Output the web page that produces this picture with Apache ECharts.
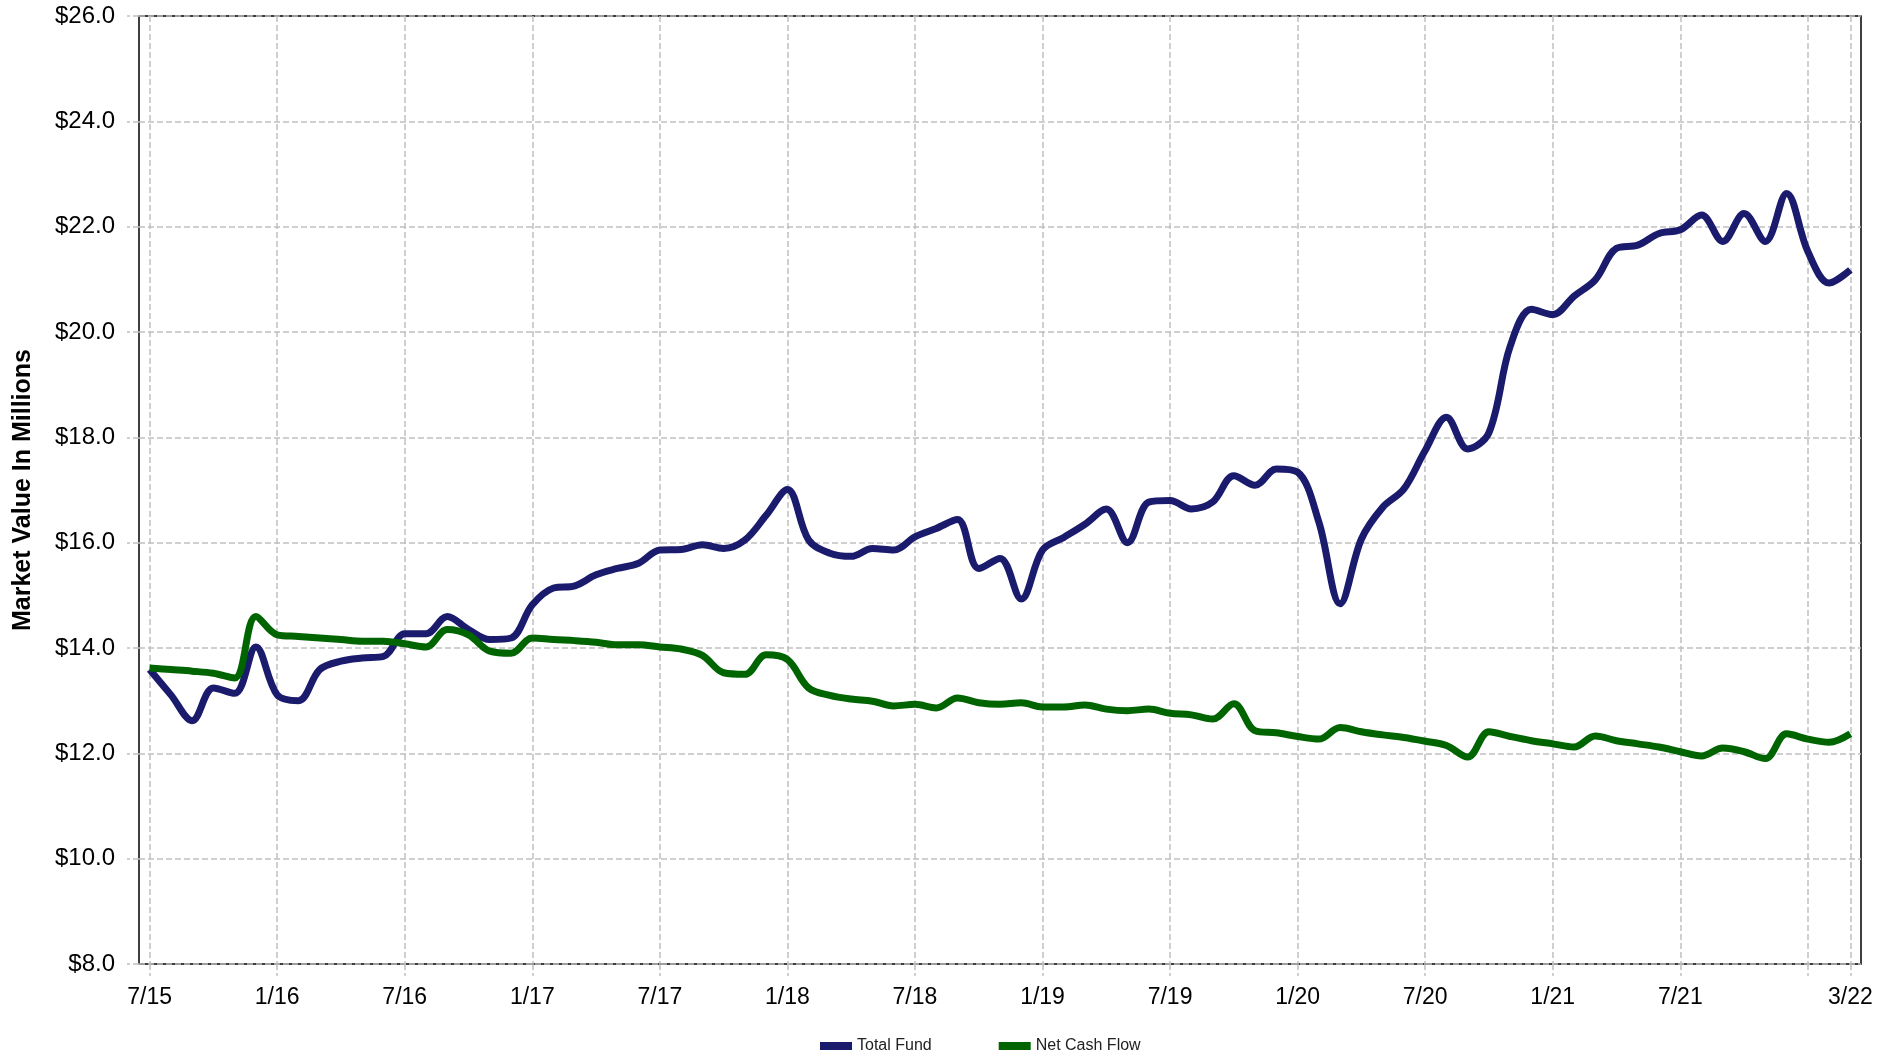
<!DOCTYPE html>
<html>
<head>
<meta charset="utf-8">
<title>Market Value</title>
<script src="https://cdn.jsdelivr.net/npm/echarts@6/dist/echarts.min.js"></script>
<style>
  html, body { margin: 0; padding: 0; background: #fff; }
  #chart { width: 1893px; height: 1055px; }
</style>
</head>
<body>
<div id="chart"></div>
<script>
// monthly, 7/15 .. 3/22
const months = [
  '7/15', '8/15', '9/15', '10/15', '11/15', '12/15',
  '1/16', '2/16', '3/16', '4/16', '5/16', '6/16', '7/16', '8/16', '9/16', '10/16', '11/16', '12/16',
  '1/17', '2/17', '3/17', '4/17', '5/17', '6/17', '7/17', '8/17', '9/17', '10/17', '11/17', '12/17',
  '1/18', '2/18', '3/18', '4/18', '5/18', '6/18', '7/18', '8/18', '9/18', '10/18', '11/18', '12/18',
  '1/19', '2/19', '3/19', '4/19', '5/19', '6/19', '7/19', '8/19', '9/19', '10/19', '11/19', '12/19',
  '1/20', '2/20', '3/20', '4/20', '5/20', '6/20', '7/20', '8/20', '9/20', '10/20', '11/20', '12/20',
  '1/21', '2/21', '3/21', '4/21', '5/21', '6/21', '7/21', '8/21', '9/21', '10/21', '11/21', '12/21',
  '1/22', '2/22', '3/22'
]

const totalFund = [
  13.59, 13.11, 12.62, 13.24, 13.14, 14.02,
  13.11, 13.00, 13.59, 13.75, 13.81, 13.84, 14.27, 14.27, 14.60, 14.35, 14.16, 14.19,
  14.82, 15.14, 15.18, 15.39, 15.51, 15.61, 15.86, 15.87, 15.96, 15.89, 16.05, 16.52,
  17.01, 16.05, 15.80, 15.74, 15.89, 15.86, 16.11, 16.27, 16.44, 15.51, 15.70, 14.93,
  15.86, 16.10, 16.35, 16.64, 16.00, 16.77, 16.80, 16.64, 16.77, 17.27, 17.09, 17.40,
  17.34, 16.39, 14.84, 16.07, 16.67, 17.02, 17.75, 18.38, 17.78, 18.09, 19.73, 20.43,
  20.33, 20.68, 20.99, 21.59, 21.65, 21.87, 21.94, 22.22, 21.72, 22.25, 21.72, 22.63,
  21.53, 20.93, 21.18
]

const netCashFlow = [
  13.62, 13.59, 13.56, 13.52, 13.43, 14.60,
  14.25, 14.22, 14.19, 14.16, 14.13, 14.13, 14.08, 14.02, 14.35, 14.25, 13.94, 13.90,
  14.19, 14.16, 14.14, 14.11, 14.06, 14.06, 14.02, 13.98, 13.86, 13.53, 13.50, 13.87,
  13.78, 13.24, 13.10, 13.03, 12.99, 12.90, 12.93, 12.86, 13.05, 12.96, 12.93, 12.96,
  12.88, 12.88, 12.92, 12.84, 12.81, 12.84, 12.76, 12.73, 12.65, 12.94, 12.43, 12.39,
  12.32, 12.27, 12.49, 12.41, 12.35, 12.30, 12.23, 12.15, 11.93, 12.41, 12.32, 12.24,
  12.18, 12.12, 12.33, 12.24, 12.18, 12.12, 12.03, 11.95, 12.10, 12.03, 11.90, 12.37,
  12.27, 12.21, 12.37
]

const yTicks = { min: 8, max: 26, step: 2 }

const lastIdx = months.length - 1
const gridTick = (idx) => idx % 6 === 0 || idx === lastIdx
// 1/22 sits too close to 3/22, so it only gets a gridline
const labelTick = (idx) => (idx % 6 === 0 && idx < lastIdx - 2) || idx === lastIdx

const font = '"Liberation Sans", Arial, sans-serif'
const dashed = { color: '#c0c0c0', width: 1.5, type: [6, 3] }

const chart = echarts.init(document.getElementById('chart'))

const option = {
  animation: false,
  textStyle: { fontFamily: font },
  grid: {
    left: 139,
    right: 32,
    top: 16,
    bottom: 91,
    outerBoundsMode: 'none',
    containLabel: false,
    show: true,
    borderColor: '#000',
    borderWidth: 1.5,
    backgroundColor: 'transparent'
  },
  legend: {
    left: 815,
    top: 1033,
    itemWidth: 32,
    itemHeight: 8,
    itemGap: 67,
    textStyle: { fontSize: 16, color: '#222', fontFamily: font },
    data: [
      { name: 'Total Fund', icon: 'rect' },
      { name: 'Net Cash Flow', icon: 'rect' }
    ]
  },
  xAxis: {
    type: 'category',
    data: months,
    boundaryGap: true,
    axisLine: { show: false },
    axisTick: {
      show: true,
      length: 12,
      alignWithLabel: true,
      interval: gridTick,
      lineStyle: dashed
    },
    splitLine: {
      show: true,
      alignWithLabel: true,
      interval: gridTick,
      lineStyle: dashed
    },
    axisLabel: {
      interval: labelTick,
      margin: 22,
      fontSize: 23,
      color: '#000',
      fontFamily: font
    }
  },
  yAxis: {
    type: 'value',
    min: yTicks.min,
    max: yTicks.max,
    interval: yTicks.step,
    name: 'Market Value In Millions',
    nameLocation: 'middle',
    nameGap: 103,
    nameTextStyle: { fontSize: 25, fontWeight: 'bold', color: '#000', fontFamily: font },
    axisLine: { show: false },
    axisTick: { show: true, length: 12, lineStyle: dashed },
    splitLine: { show: true, lineStyle: dashed },
    axisLabel: {
      margin: 24,
      fontSize: 24,
      color: '#000',
      fontFamily: font,
      formatter: (v) => '$' + v.toFixed(1)
    }
  },
  series: [
    {
      name: 'Total Fund',
      type: 'line',
      data: totalFund,
      smooth: 0.35,
      symbol: 'none',
      itemStyle: { color: '#1b1b6e' },
      lineStyle: { color: '#1b1b6e', width: 7 }
    },
    {
      name: 'Net Cash Flow',
      type: 'line',
      data: netCashFlow,
      smooth: 0.35,
      symbol: 'none',
      itemStyle: { color: '#006400' },
      lineStyle: { color: '#006400', width: 7 }
    }
  ]
}

chart.setOption(option)
window.addEventListener('resize', () => chart.resize())
</script>
</body>
</html>
